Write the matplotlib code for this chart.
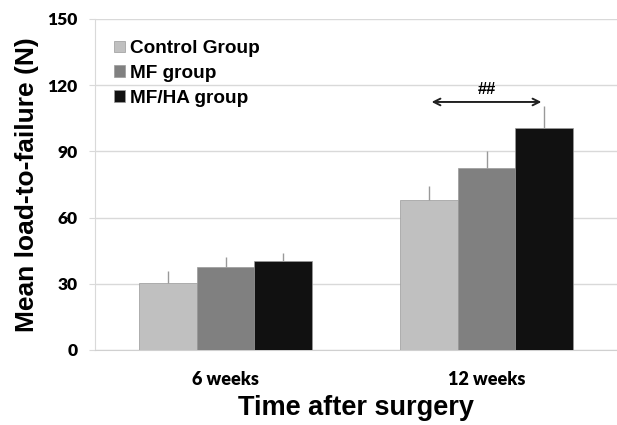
import matplotlib
matplotlib.use("Agg")
import matplotlib.pyplot as plt
import numpy as np

plt.rcParams["font.family"] = ["Liberation Sans", "DejaVu Sans"]

timepoints = ["6 weeks", "12 weeks"]
groups = ["Control Group", "MF group", "MF/HA group"]
colors = ["#c0c0c0", "#808080", "#111111"]
means = {
    "Control Group": [30.4, 68.0],
    "MF group": [37.6, 82.5],
    "MF/HA group": [40.3, 100.6],
}
errors = {
    "Control Group": [5.4, 6.3],
    "MF group": [4.5, 7.7],
    "MF/HA group": [3.6, 10.0],
}

width = 0.221
x = np.arange(len(timepoints))

fig = plt.figure(figsize=(6.17, 4.25), dpi=100)
ax = fig.add_axes([95 / 617, 1 - 350 / 425, 522 / 617, 331 / 425])

for i, g in enumerate(groups):
    pos = x + (i - 1) * width
    ax.bar(pos, means[g], width, color=colors[i], edgecolor="#9a9a9a",
           linewidth=0.5, label=g, zorder=3)
    ax.errorbar(pos, means[g], yerr=[np.zeros(2), errors[g]], fmt="none",
                ecolor="#999999", elinewidth=1.0, capsize=0, zorder=4)

# significance marker between control and MF/HA at 12 weeks
ax.annotate("", xy=(1 + width, 112.4), xytext=(1 - width, 112.4),
            arrowprops=dict(arrowstyle="<->", color="#222222", lw=1.4,
                            mutation_scale=12))
ax.text(1.0, 114.5, "##", ha="center", va="bottom", fontsize=12,
        fontweight="bold")

ax.set_xlim(-0.5, 1.5)
ax.set_ylim(0, 150)
ax.set_yticks(np.arange(0, 151, 30))
ax.yaxis.grid(True, color="#d9d9d9", lw=1.0, zorder=0)
ax.set_axisbelow(True)
for s in ["top", "right"]:
    ax.spines[s].set_visible(False)
ax.spines["left"].set_color("#d9d9d9")
ax.spines["bottom"].set_color("#d0d0d0")
ax.tick_params(axis="y", length=4.3, color="#d9d9d9", pad=8)
ax.tick_params(axis="x", length=0, pad=15)
ax.set_xticks(x)
ax.set_xticklabels(timepoints, fontsize=13, fontweight="heavy",
                   family=["Lato", "DejaVu Sans"])
for lab in ax.get_yticklabels():
    lab.set_fontsize(12.5)
    lab.set_fontweight("heavy")
    lab.set_family(["Lato", "DejaVu Sans"])

ax.set_ylabel("Mean load-to-failure (N)", fontsize=19, fontweight="bold",
              labelpad=6)
ax.set_xlabel("Time after surgery", fontsize=19.5, fontweight="bold",
              labelpad=5)

ax.legend(loc="upper left", bbox_to_anchor=(0.015, 0.97), frameon=False,
          prop={"weight": "bold", "size": 13.7},
          handlelength=0.55, handleheight=0.55, handletextpad=0.3,
          labelspacing=0.4, borderaxespad=0.2)

fig.savefig("out.png", dpi=100)
